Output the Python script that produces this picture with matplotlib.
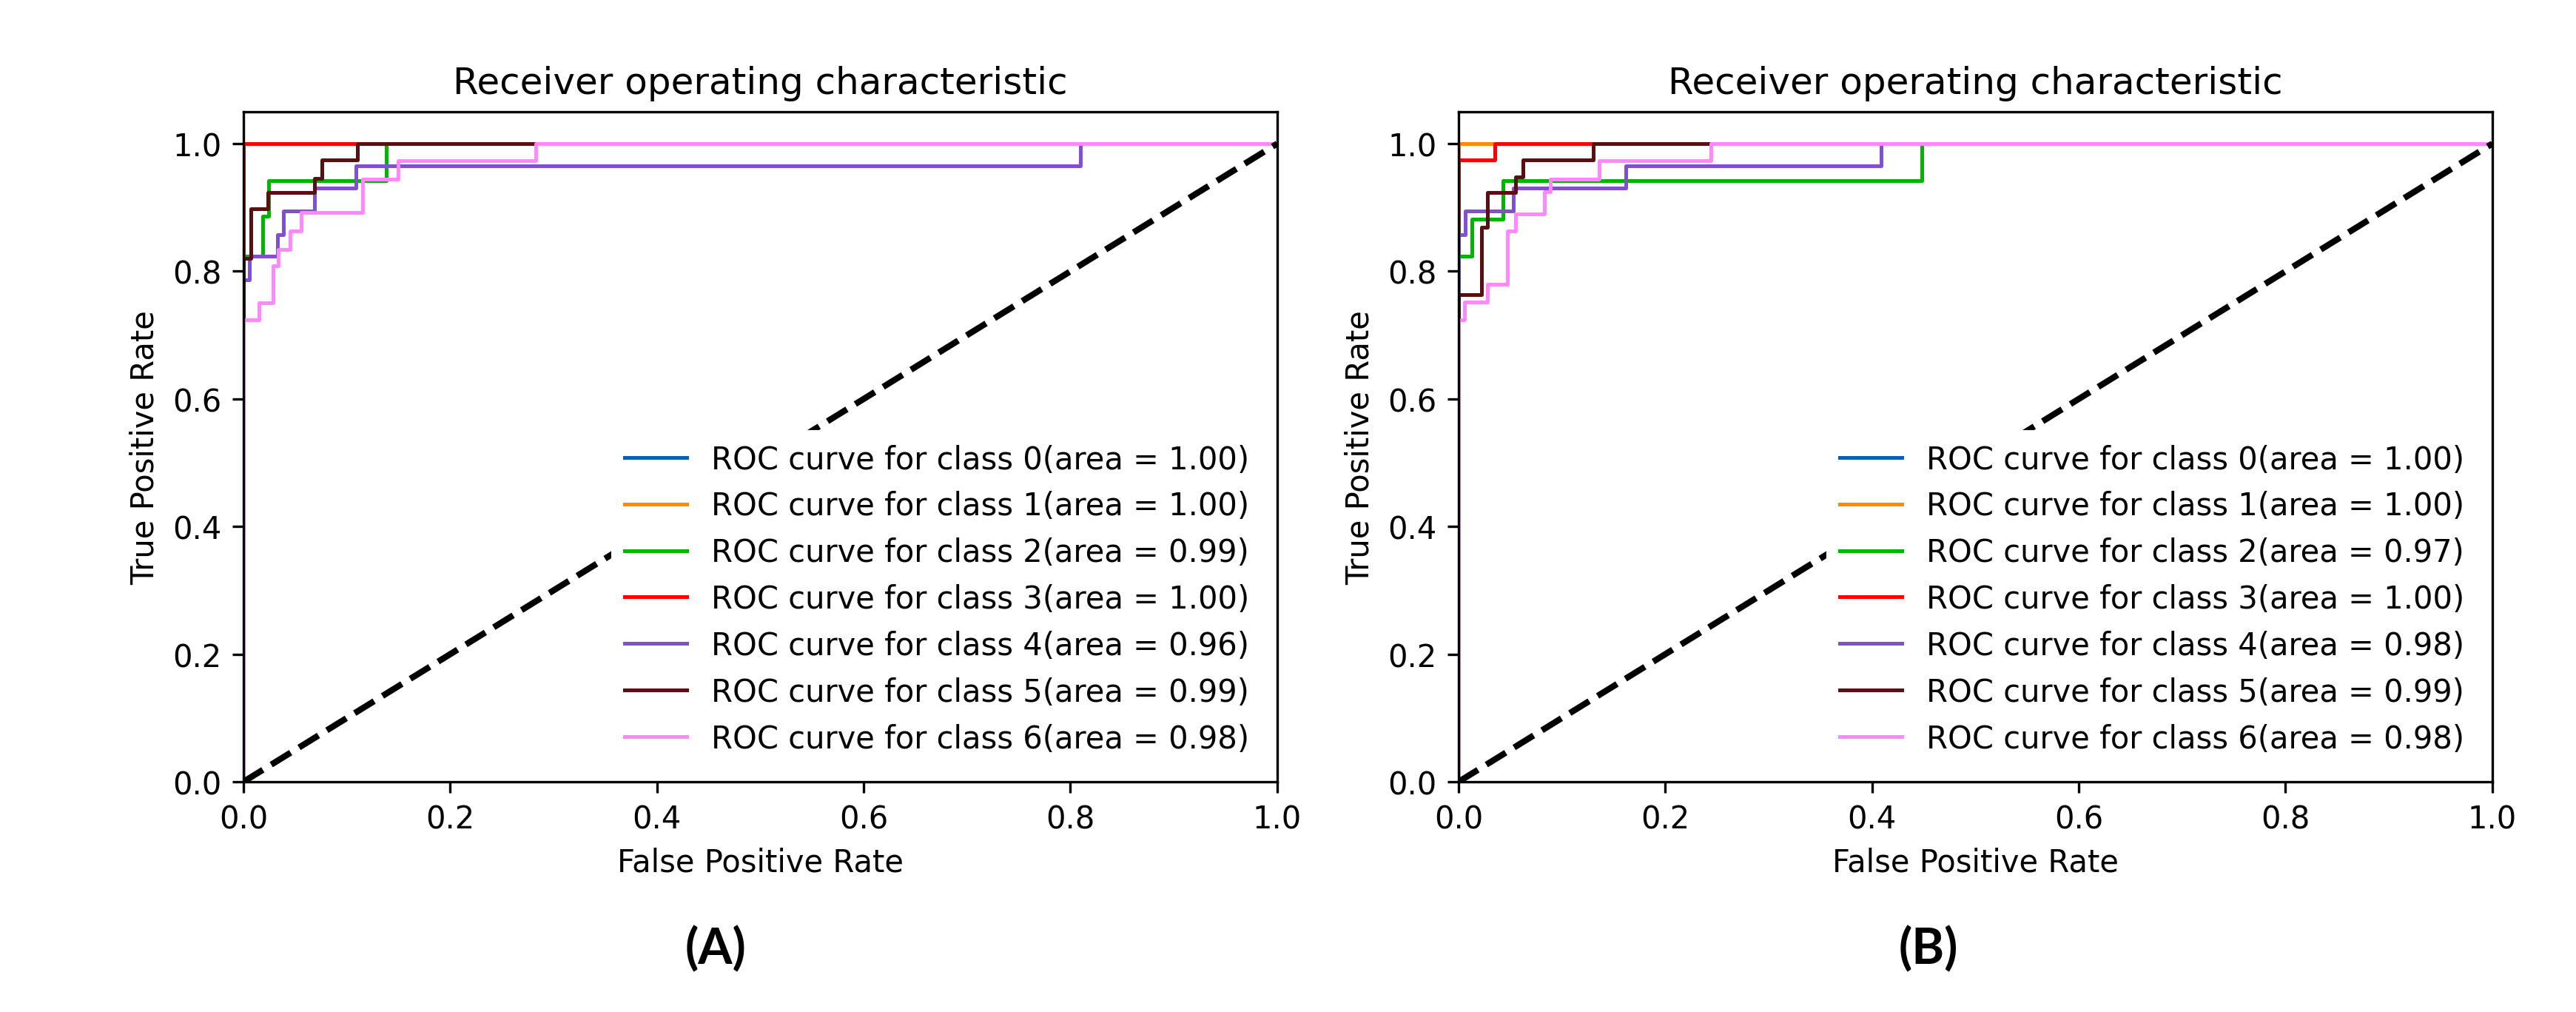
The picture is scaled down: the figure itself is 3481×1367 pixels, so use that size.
import matplotlib
matplotlib.use("Agg")
import matplotlib.pyplot as plt

# class order and colours (default cycle, but brighter as seen in picture)
classes = [0, 1, 2, 3, 4, 5, 6]
colors = ["#0b5fb0", "#ff8c00", "#00b400", "#ff0000", "#8050d0", "#5a1010", "#ff88ff"]

# panel A : fpr / tpr per class
a_fpr = [
    [0, 0, 1],
    [0, 0, 1],
    [0, 0, 0.0186, 0.0186, 0.0246, 0.0246, 0.138, 0.138, 1],
    [0, 0, 1],
    [0, 0, 0.0055, 0.0055, 0.033, 0.033, 0.039, 0.039, 0.069, 0.069, 0.109, 0.109, 0.81, 0.81, 1],
    [0, 0, 0.007, 0.007, 0.024, 0.024, 0.069, 0.069, 0.076, 0.076, 0.110, 0.110, 1],
    [0, 0, 0.015, 0.015, 0.029, 0.029, 0.034, 0.034, 0.045, 0.045, 0.056, 0.056,
     0.115, 0.115, 0.150, 0.150, 0.283, 0.283, 1],
]
a_tpr = [
    [0, 1, 1],
    [0, 1, 1],
    [0, 0.824, 0.824, 0.886, 0.886, 0.942, 0.942, 1, 1],
    [0, 1, 1],
    [0, 0.787, 0.787, 0.824, 0.824, 0.857, 0.857, 0.894, 0.894, 0.930, 0.930, 0.965, 0.965, 1, 1],
    [0, 0.82, 0.82, 0.898, 0.898, 0.923, 0.923, 0.946, 0.946, 0.975, 0.975, 1, 1],
    [0, 0.724, 0.724, 0.751, 0.751, 0.809, 0.809, 0.834, 0.834, 0.863, 0.863, 0.892,
     0.892, 0.944, 0.944, 0.973, 0.973, 1, 1],
]
a_auc = [1.00, 1.00, 0.99, 1.00, 0.96, 0.99, 0.98]

# panel B
b_fpr = [
    [0, 0, 1],
    [0, 0, 1],
    [0, 0, 0.013, 0.013, 0.043, 0.043, 0.448, 0.448, 1],
    [0, 0, 0.035, 0.035, 1],
    [0, 0, 0.0064, 0.0064, 0.053, 0.053, 0.162, 0.162, 0.409, 0.409, 1],
    [0, 0, 0.022, 0.022, 0.028, 0.028, 0.055, 0.055, 0.0625, 0.0625, 0.130, 0.130, 1],
    [0, 0, 0.006, 0.006, 0.028, 0.028, 0.047, 0.047, 0.055, 0.055, 0.083, 0.083,
     0.089, 0.089, 0.136, 0.136, 0.244, 0.244, 1],
]
b_tpr = [
    [0, 1, 1],
    [0, 1, 1],
    [0, 0.824, 0.824, 0.882, 0.882, 0.942, 0.942, 1, 1],
    [0, 0.975, 0.975, 1, 1],
    [0, 0.857, 0.857, 0.894, 0.894, 0.930, 0.930, 0.965, 0.965, 1, 1],
    [0, 0.764, 0.764, 0.869, 0.869, 0.923, 0.923, 0.948, 0.948, 0.975, 0.975, 1, 1],
    [0, 0.724, 0.724, 0.752, 0.752, 0.780, 0.780, 0.863, 0.863, 0.890, 0.890, 0.925,
     0.925, 0.944, 0.944, 0.973, 0.973, 1, 1],
]
b_auc = [1.00, 1.00, 0.97, 1.00, 0.98, 0.99, 0.98]

panels = ["(A)", "(B)"]


def roc_panel(ax, fpr, tpr, auc):
    for i in range(len(classes)):
        ax.plot(fpr[i], tpr[i], color=colors[i], lw=1.2,
                label="ROC curve for class {0}(area = {1:0.2f})".format(classes[i], auc[i]))
    ax.plot([0, 1], [0, 1], "k--", lw=2)
    ax.set_xlim([0.0, 1.0])
    ax.set_ylim([0.0, 1.05])
    ax.set_xlabel("False Positive Rate")
    ax.set_ylabel("True Positive Rate")
    ax.set_title("Receiver operating characteristic")
    leg = ax.legend(loc="lower right", framealpha=1)
    leg.get_frame().set_edgecolor("white")


fig = plt.figure(figsize=(3481 / 300, 1368 / 300), dpi=300)
ax1 = fig.add_axes([0.0945, 0.2273, 0.4013, 0.6616])
ax2 = fig.add_axes([0.5662, 0.2273, 0.4013, 0.6616])

roc_panel(ax1, a_fpr, a_tpr, a_auc)
roc_panel(ax2, b_fpr, b_tpr, b_auc)

fig.text(0.2778, 0.062, panels[0], ha="center", va="center",
         fontsize=16, fontweight="bold", family="Lato")
fig.text(0.7486, 0.062, panels[1], ha="center", va="center",
         fontsize=16, fontweight="bold", family="Lato")

fig.savefig("out.png", dpi=300)
